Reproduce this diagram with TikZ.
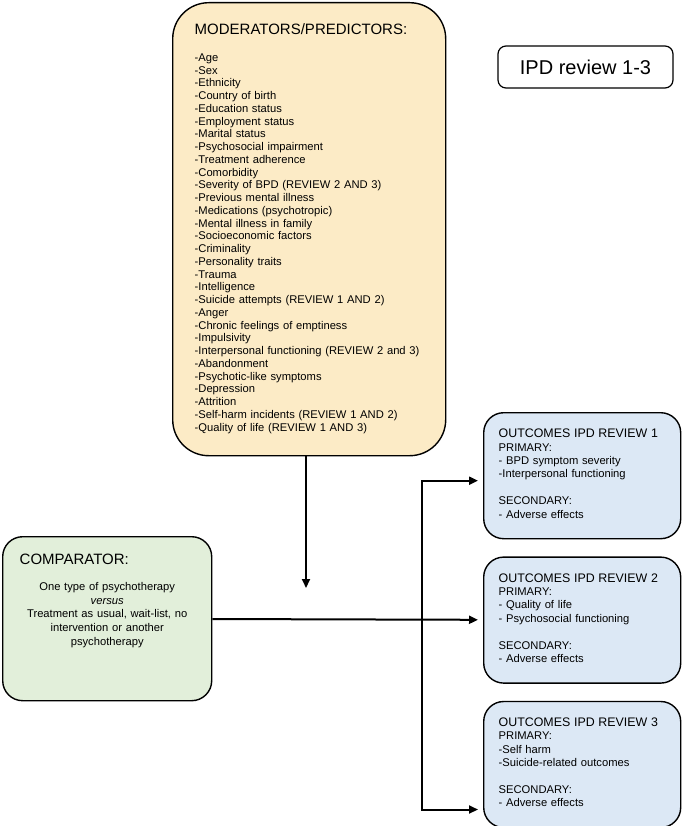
\documentclass[tikz,border=0pt]{standalone}
\usepackage{fontspec}
\setmainfont{Liberation Sans}
\usetikzlibrary{positioning, arrows.meta}

\definecolor{modfill}{HTML}{FCEBC6}
\definecolor{compfill}{HTML}{E2EFDA}
\definecolor{outfill}{HTML}{DCE8F5}

\tikzstyle{predictors} = [rectangle, rounded corners=36pt, draw=black, line width=1.4pt, fill=modfill, align=left, text width=229pt, inner xsep=22pt, inner ysep=0pt, text height=32pt, text depth=421pt, font=\fontsize{11.2}{12.75}\selectfont]
\tikzstyle{comparator} = [rectangle, rounded corners=20pt, draw=black, line width=1.4pt, fill=compfill, align=center, text width=175pt, inner xsep=17pt, inner ysep=0pt, text height=28pt, text depth=136pt, font=\fontsize{11.2}{13.6}\selectfont]
\tikzstyle{outcome} = [rectangle, rounded corners=20pt, draw=black, line width=1.4pt, fill=outfill, align=left, text width=167pt, inner xsep=15pt, inner ysep=0pt, text height=25pt, text depth=101pt, font=\fontsize{11.2}{13.4}\selectfont]
\tikzstyle{tag} = [rectangle, rounded corners=8pt, draw=black, line width=1.2pt, minimum width=175pt, minimum height=42pt, font=\fontsize{20}{24}\selectfont]
\tikzstyle{arrow} = [line width=2pt, -{Triangle[length=9pt,width=8pt]}, shorten >=5pt]

\begin{document}
\begin{tikzpicture}[x=1pt, y=1pt]

\useasboundingbox (0,0) rectangle (683,-826);

% Moderators / predictors
\node (mod) [predictors, anchor=north west] at (172,-2) {{\fontsize{15}{18}\selectfont MODERATORS/PREDICTORS:}\\[13.95pt]
-Age\\ -Sex\\ -Ethnicity\\ -Country of birth\\ -Education status\\ -Employment status\\
-Marital status\\ -Psychosocial impairment\\ -Treatment adherence\\ -Comorbidity\\
-Severity of BPD (REVIEW 2 AND 3)\\ -Previous mental illness\\ -Medications (psychotropic)\\
-Mental illness in family\\ -Socioeconomic factors\\ -Criminality\\ -Personality traits\\
-Trauma\\ -Intelligence\\ -Suicide attempts (REVIEW 1 AND 2)\\ -Anger\\
-Chronic feelings of emptiness\\ -Impulsivity\\ -Interpersonal functioning (REVIEW 2 and 3)\\
-Abandonment\\ -Psychotic-like symptoms\\ -Depression\\ -Attrition\\
-Self-harm incidents (REVIEW 1 AND 2)\\ -Quality of life (REVIEW 1 AND 3)};

% Title tag
\node (ipd) [tag] at (585.5,-67) {IPD review 1-3};

% Comparator
\node (comp) [comparator, anchor=north west] at (2,-536) {\makebox[\linewidth][l]{\fontsize{15}{18}\selectfont COMPARATOR:}\\[12.4pt]
One type of psychotherapy\\ \textit{versus}\\ Treatment as usual, wait-list, no\\ intervention or another\\ psychotherapy};

% Outcomes
\node (out1) [outcome, anchor=north west] at (483,-412) {{\fontsize{12.4}{15}\selectfont OUTCOMES IPD REVIEW 1}\\ PRIMARY:\\ - BPD symptom severity\\ -Interpersonal functioning\\[13.4pt] SECONDARY:\\ - Adverse effects};
\node (out2) [outcome, below=17pt of out1] {{\fontsize{12.4}{15}\selectfont OUTCOMES IPD REVIEW 2}\\ PRIMARY:\\ - Quality of life\\ - Psychosocial functioning\\[13.4pt] SECONDARY:\\ - Adverse effects};
\node (out3) [outcome, below=17pt of out2] {{\fontsize{12.4}{15}\selectfont OUTCOMES IPD REVIEW 3}\\ PRIMARY:\\ -Self harm\\ -Suicide-related outcomes\\[13.4pt] SECONDARY:\\ - Adverse effects};

% Arrows
\coordinate (modend) at (306,-593);
\coordinate (split) at (422,-618);
\draw [arrow] (mod.south -| modend) -- (modend);
\draw [arrow] (comp) -- (out2);
\draw [arrow] (split) |- ([yshift=-5pt]out1.west);
\draw [arrow] (split) |- ([yshift=-45pt]out3.west);

\end{tikzpicture}
\end{document}
